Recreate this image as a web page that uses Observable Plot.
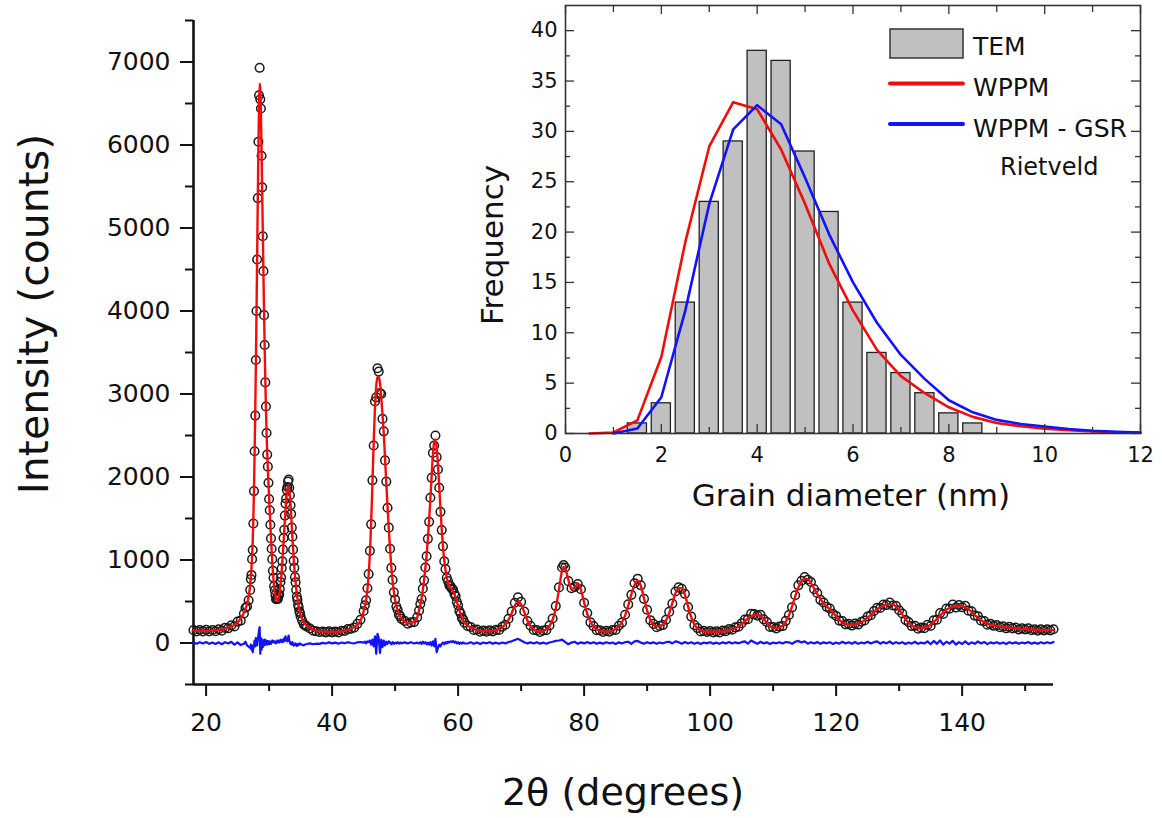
<!DOCTYPE html>
<html><head><meta charset="utf-8">
<script src="https://cdn.jsdelivr.net/npm/d3@7"></script>
<script src="https://cdn.jsdelivr.net/npm/@observablehq/plot@0.6"></script>
<style>
body{margin:0;background:#fff;}
#wrap{position:relative;width:1162px;height:818px;overflow:hidden;background:#fff;}
#wrap svg{position:absolute;left:0;top:0;max-width:none;}
</style></head><body><div id="wrap"></div>
<script>
// ---------- main XRD pattern ----------
const twoTheta = [
18,18.5,19,19.5,20,20.5,21,21.5,22,22.5,23,23.5,24,24.5,25,25.5,26,
26.25,26.5,26.75,
27.0,27.1,27.2,27.3,27.4,27.5,27.6,27.7,27.8,27.9,
28.0,28.1,28.2,28.3,28.4,28.5,28.6,28.7,28.8,28.9,
29.0,29.1,29.2,29.3,29.4,29.5,29.6,29.7,29.8,29.9,
30.0,30.1,30.2,30.3,30.4,30.5,30.6,30.7,30.8,30.9,
31.0,31.1,31.2,31.3,31.4,31.5,31.6,31.7,31.8,31.9,
32.0,32.1,32.2,32.3,32.4,32.5,32.6,32.7,32.8,32.9,
33.0,33.1,33.2,33.3,33.4,33.5,33.6,33.7,33.8,33.9,
34.0,34.1,34.2,34.3,34.4,34.5,34.6,34.7,34.8,34.9,
35.0,
35.25,35.5,35.75,
36,36.5,37,37.5,38,38.5,39,39.5,40,40.5,41,41.5,42,42.5,43,43.5,44,44.5,
45,45.2,45.4,45.6,45.8,46,46.2,46.4,46.6,46.8,
47,47.2,47.4,47.6,47.8,48,48.2,48.4,48.6,48.8,
49,49.2,49.4,49.6,49.8,50,50.2,50.4,50.6,50.8,
51,
51.5,52,52.5,53,53.5,
53.8,54,54.2,54.4,54.6,54.8,55,55.2,55.4,55.6,
55.8,56,56.2,56.4,56.6,56.8,57,57.2,57.4,57.6,
57.8,58,58.2,58.4,58.6,58.8,59,59.2,59.4,59.6,
59.8,60,60.2,60.4,60.6,60.8,61,
61.5,62,62.5,63,63.5,64,64.5,65,65.5,66,
66.5,67,67.5,68,68.5,69,69.5,70,70.5,71,
71.5,72,72.5,73,73.5,74,74.5,75,75.5,76,
76.5,76.75,77,77.5,78,78.5,79,79.5,80,80.5,
81,81.5,82,82.5,83,83.5,84,84.5,85,85.5,
86,86.5,87,87.5,88,88.5,89,89.5,90,90.5,
91,91.5,92,92.5,93,93.5,94,94.5,95,95.5,
96,96.5,97,97.5,98,98.5,99,99.5,100,100.5,
101,101.5,102,102.5,103,103.5,104,104.5,105,105.5,
106,106.5,107,107.5,108,108.5,109,109.5,110,110.5,
111,111.5,112,112.5,113,113.5,114,114.5,115,115.5,
116,116.5,117,117.5,118,118.5,119,119.5,120,120.5,
121,121.5,122,122.5,123,123.5,124,124.5,125,125.5,
126,126.5,127,127.5,128,128.5,129,129.5,130,130.5,
131,131.5,132,132.5,133,133.5,134,134.5,135,135.5,
136,136.5,137,137.5,138,138.5,139,139.5,140,140.5,
141,141.5,142,142.5,143,143.5,144,144.5,145,145.5,
146,146.5,147,147.5,148,148.5,149,149.5,150,150.5,
151,151.5,152,152.5,153,153.5,154,154.5
];
// calculated (WPPM fit) intensity, counts
const calcCounts = [
150,148,146,145,146,148,150,153,158,164,172,183,198,220,250,295,365,
410,470,560,
700,790,900,1040,1230,1500,1850,2280,2780,3350,
3980,4650,5320,5950,6450,6740,6680,6380,5950,5450,
4950,4450,3980,3550,3160,2820,2520,2290,2100,1920,
1750,1580,1420,1270,1120,980,860,760,680,615,
568,532,515,512,522,545,580,630,695,775,
870,975,1090,1215,1345,1475,1600,1710,1800,1860,
1885,1880,1840,1770,1670,1550,1410,1270,1140,1020,
915,820,735,660,595,535,485,440,400,365,
335,
290,255,228,
208,180,163,150,142,137,134,132,132,133,136,141,148,158,172,192,222,268,
380,440,520,640,820,1080,1450,1920,2420,2830,
3090,3200,3210,3130,2960,2750,2520,2230,1930,1640,
1370,1130,920,750,620,520,445,390,348,318,
295,
258,238,238,258,305,
395,460,540,640,760,900,1060,1250,1480,1740,
2020,2270,2420,2450,2350,2150,1890,1620,1370,1160,
1000,880,790,730,690,665,645,620,590,550,
500,445,395,350,310,278,250,
212,185,168,156,148,143,141,142,146,154,
168,190,225,280,360,450,500,465,370,270,
200,162,145,140,146,165,205,280,420,640,
870,915,900,760,655,660,720,640,490,350,
255,195,165,148,140,137,140,150,170,200,
250,330,450,590,700,750,690,540,390,280,
222,200,200,220,270,360,480,600,660,660,
580,440,310,225,175,150,140,136,135,135,
136,138,142,148,155,165,180,200,228,262,
295,322,338,340,325,290,245,205,185,180,
188,210,255,330,440,560,670,745,775,770,
725,655,590,530,480,440,405,365,320,278,
248,230,221,218,222,232,250,275,305,340,
375,405,430,450,462,468,462,440,400,345,
290,245,212,192,182,180,185,198,220,250,
290,330,370,400,422,437,445,447,442,428,
405,375,340,305,275,252,235,222,212,205,
199,194,189,185,181,177,173,170,167,164,
162,160,158,157,156,155,154,154
];
// difference curve (observed - calculated), counts
const diffCounts = [
5,-8,10,-5,12,-10,6,-12,8,-15,10,-6,14,-20,8,-25,-10,
15,-30,-45,
-60,-20,-80,-30,-110,-60,-20,30,-40,60,
20,-30,40,90,150,190,-130,60,-80,40,
-50,30,-30,40,-20,30,10,-20,25,10,
-15,20,5,-10,15,30,10,25,5,20,
10,-5,15,30,10,25,5,20,40,15,
30,10,35,50,20,60,80,30,45,20,
60,90,30,10,-10,5,-20,10,-15,-30,
-10,-25,-5,-20,-35,-15,-25,-10,-20,-5,
-15,
-20,-30,-15,
-12,-5,-15,-8,-10,2,-6,8,-4,5,-8,6,-3,10,0,-6,8,12,
5,15,-5,20,10,30,-20,40,-40,80,
-130,110,60,-120,40,-50,30,-30,15,-10,
20,5,-15,10,-10,5,-5,10,-8,6,
-4,
8,-5,10,-6,4,
-5,10,-10,15,-5,10,-15,5,-20,10,
-30,20,-40,50,-110,-60,-20,-40,-10,5,
-15,10,-5,15,5,20,10,25,5,15,
-5,10,-10,5,-8,6,-5,
-6,8,-10,5,-12,6,-4,10,-8,4,
-10,6,-5,12,20,35,50,30,10,-5,
8,-6,10,-8,5,-10,6,15,25,30,
40,25,10,-15,5,15,-10,8,-5,12,
-6,8,-10,5,-8,10,-4,6,-12,8,
-5,10,15,-10,20,25,5,-8,10,-5,
8,-10,6,-4,10,15,-5,20,10,-8,
12,-6,8,-10,5,-12,6,-4,10,-8,
4,-10,8,-5,12,-6,8,-4,10,20,
-8,30,10,-10,15,-5,8,-12,6,-4,
10,-6,12,8,-10,15,25,5,20,-8,
10,-6,12,-10,8,-4,10,-12,6,-8,
15,-5,10,-8,12,-10,6,-4,14,-6,
10,20,-8,12,-5,18,-10,8,-6,10,
-12,6,-8,15,-10,5,-6,20,-15,25,
-10,30,-20,15,-8,25,-18,10,-12,20,
-15,8,-10,18,-6,12,-14,8,-5,10,
-8,6,-12,10,-5,8,-10,6,-4,12,
-8,5,-10,8,-6,10,-4,12
];
const xDomain = [18, 154.5];
const yDomain = [-500, 7500];
const xMajor = [20,40,60,80,100,120,140];
const xMinor = [30,50,70,90,110,130,150];
const yMajor = [0,1000,2000,3000,4000,5000,6000,7000];
const yMinor = [-500,500,1500,2500,3500,4500,5500,6500,7500];

// ---------- inset: grain size distribution ----------
const binCenters = [1.5,2,2.5,3,3.5,4,4.5,5,5.5,6,6.5,7,7.5,8,8.5];
const temCounts  = [1,3,13,23,29,38,37,28,22,13,8,6,4,2,1];
const wppmDiam = [0.5,1,1.5,2,2.5,3,3.5,4,4.5,5,5.5,6,6.5,7,7.5,8,8.5,9,9.5,10,10.5,11,11.5,12];
const wppmFreq = [0,0.1,1.3,7.6,19,28.5,32.9,32.2,28.2,22.8,16.9,12.2,8.3,5.7,4.0,2.6,1.65,1.05,0.72,0.48,0.32,0.2,0.12,0.07];
const gsrDiam = [1,1.5,2,2.5,3,3.5,4,4.5,5,5.5,6,6.5,7,7.5,8,8.5,9,9.5,10,10.5,11,11.5,12];
const gsrFreq = [0,0.5,3.6,12.2,22.8,30.2,32.6,30.7,25.4,19.8,15.0,11.0,7.8,5.4,3.3,2.1,1.35,0.95,0.7,0.45,0.28,0.17,0.1];
const insetXDomain = [0, 12];
const insetYDomain = [0, 42.5];
const insetXMajor = [0,2,4,6,8,10,12];
const insetXMinor = [1,3,5,7,9,11];
const insetYMajor = [0,5,10,15,20,25,30,35,40];
const insetYMinor = [2.5,7.5,12.5,17.5,22.5,27.5,32.5,37.5];
const legendLabels = ["TEM", "WPPM", "WPPM - GSR"];
const legendNote = "Rietveld";

const RED = "#f20d0d", BLUE = "#1212ff", GREY = "#c0c0c0";
const FONT = "DejaVu Sans, Verdana, sans-serif";
const TITLEFONT = "'Comic Sans MS', 'DejaVu Sans', sans-serif";

const n = Math.min(twoTheta.length, calcCounts.length, diffCounts.length);
const pattern = d3.range(n).map(i => ({t: twoTheta[i], calc: calcCounts[i], diff: diffCounts[i], obs: calcCounts[i] + diffCounts[i]}));

const wrap = document.getElementById("wrap");

const main = Plot.plot({
  width: 1162, height: 818,
  marginLeft: 193, marginRight: 109, marginTop: 20, marginBottom: 134,
  style: {fontFamily: FONT, fontSize: "25px", color: "#111", background: "transparent", overflow: "visible", maxWidth: "none"},
  x: {domain: xDomain},
  y: {domain: yDomain},
  marks: [
    Plot.axisX(xMajor, {tickSize: 12, tickPadding: 17, strokeWidth: 2, tickFormat: d3.format("d"), label: null}),
    Plot.axisX(xMinor, {tickSize: 7, strokeWidth: 2, tickFormat: () => "", label: null}),
    Plot.axisY(yMajor, {tickSize: 13, tickPadding: 10, strokeWidth: 2, tickFormat: d3.format("d"), label: null}),
    Plot.axisY(yMinor, {tickSize: 8, strokeWidth: 2, tickFormat: () => "", label: null}),
    Plot.ruleX([xDomain[0]], {stroke: "#111", strokeWidth: 2.6}),
    Plot.ruleY([yDomain[0]], {stroke: "#111", strokeWidth: 2.6}),
    Plot.line(pattern, {x: "t", y: "diff", stroke: BLUE, strokeWidth: 2.2}),
    Plot.dot(pattern, {x: "t", y: "obs", r: 4.3, stroke: "#1a1a1a", strokeWidth: 1.5, fill: "none"}),
    Plot.line(pattern, {x: "t", y: "calc", stroke: RED, strokeWidth: 2.4, curve: "monotone-x"})
  ]
});
wrap.appendChild(main);
const ms = d3.select(main);
ms.append("text").attr("transform", "translate(48,314) rotate(-90)")
  .attr("text-anchor", "middle").attr("fill", "#111")
  .style("font-family", TITLEFONT).style("font-size", "41px").text("Intensity (counts)");
ms.append("text").attr("x", 623).attr("y", 805)
  .attr("text-anchor", "middle").attr("fill", "#111")
  .style("font-family", TITLEFONT).style("font-size", "38px").text("2θ (degrees)");

// inset
const tem = binCenters.map((c, i) => ({c, n: temCounts[i]}));
const wppm = wppmDiam.map((d, i) => ({d, f: wppmFreq[i]}));
const gsr = gsrDiam.map((d, i) => ({d, f: gsrFreq[i]}));
const barHalf = 0.2;
const iW = 700, iH = 520, iML = 110, iMR = 15, iMT = 5, iMB = 87;
const innerW = iW - iML - iMR, innerH = iH - iMT - iMB;
const TK = "#333";
const inset = Plot.plot({
  width: iW, height: iH, marginLeft: iML, marginRight: iMR, marginTop: iMT, marginBottom: iMB,
  style: {fontFamily: FONT, fontSize: "21px", color: "#111", background: "transparent", overflow: "visible", maxWidth: "none"},
  x: {domain: insetXDomain},
  y: {domain: insetYDomain},
  marks: [
    Plot.rect(tem, {x1: d => d.c - barHalf, x2: d => d.c + barHalf, y1: 0, y2: "n", fill: GREY, stroke: "#222", strokeWidth: 1.3}),
    Plot.line(wppm, {x: "d", y: "f", stroke: RED, strokeWidth: 2.6}),
    Plot.line(gsr, {x: "d", y: "f", stroke: BLUE, strokeWidth: 2.6}),
    Plot.frame({stroke: TK, strokeWidth: 1.6}),
    Plot.axisX(insetXMajor, {tickSize: 0, tickPadding: 14, label: null}),
    Plot.axisY(insetYMajor, {tickSize: 0, tickPadding: 8, label: null}),
    Plot.tickX(insetXMajor, {x: d => d, insetTop: innerH - 9, stroke: TK, strokeWidth: 1.3}),
    Plot.tickX(insetXMajor, {x: d => d, insetBottom: innerH - 9, stroke: TK, strokeWidth: 1.3}),
    Plot.tickX(insetXMinor, {x: d => d, insetTop: innerH - 6, stroke: TK, strokeWidth: 1.3}),
    Plot.tickX(insetXMinor, {x: d => d, insetBottom: innerH - 7, stroke: TK, strokeWidth: 1.3}),
    Plot.tickY(insetYMajor, {y: d => d, insetRight: innerW - 9, stroke: TK, strokeWidth: 1.3}),
    Plot.tickY(insetYMajor, {y: d => d, insetLeft: innerW - 9, stroke: TK, strokeWidth: 1.3}),
    Plot.tickY(insetYMinor, {y: d => d, insetRight: innerW - 5, stroke: TK, strokeWidth: 1.3}),
    Plot.tickY(insetYMinor, {y: d => d, insetLeft: innerW - 5, stroke: TK, strokeWidth: 1.3})
  ]
});
inset.style.left = "455px";
inset.style.top = "0px";
wrap.appendChild(inset);
const is = d3.select(inset);
is.append("text").attr("transform", `translate(${503 - 455},245) rotate(-90)`)
  .attr("text-anchor", "middle").attr("fill", "#111")
  .style("font-family", TITLEFONT).style("font-size", "31px").text("Frequency");
is.append("text").attr("x", 851 - 455).attr("y", 506)
  .attr("text-anchor", "middle").attr("fill", "#111")
  .style("font-family", TITLEFONT).style("font-size", "31px").text("Grain diameter (nm)");

// legend
const leg = d3.select(wrap).append("svg").attr("width", 1162).attr("height", 818)
  .style("pointer-events", "none");
leg.append("rect").attr("x", 890).attr("y", 29).attr("width", 73).attr("height", 29)
  .attr("fill", GREY).attr("stroke", "#333").attr("stroke-width", 1.5);
leg.append("line").attr("x1", 890).attr("x2", 963).attr("y1", 83.5).attr("y2", 83.5)
  .attr("stroke", RED).attr("stroke-width", 4).attr("stroke-linecap", "round");
leg.append("line").attr("x1", 890).attr("x2", 963).attr("y1", 124).attr("y2", 124)
  .attr("stroke", BLUE).attr("stroke-width", 4).attr("stroke-linecap", "round");
const legY = [55, 96, 137];
legendLabels.forEach((t, i) => {
  leg.append("text").attr("x", 973).attr("y", legY[i]).attr("fill", "#111")
    .style("font-family", TITLEFONT).style("font-size", "25px").text(t);
});
leg.append("text").attr("x", 1000).attr("y", 175).attr("fill", "#111")
  .style("font-family", TITLEFONT).style("font-size", "24px").text(legendNote);
</script></body></html>
